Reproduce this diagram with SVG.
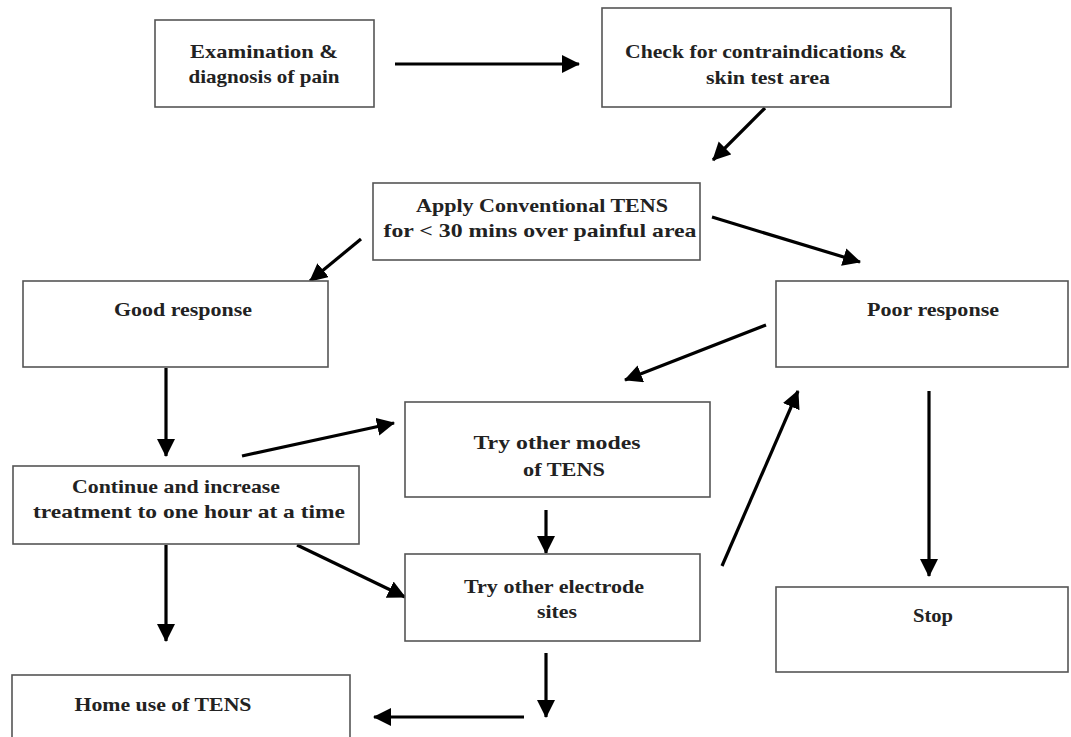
<svg xmlns="http://www.w3.org/2000/svg" width="1071" height="737" viewBox="0 0 1071 737">
<style>
.box{fill:#fff;stroke:#555;stroke-width:1.6}
.t{font-family:"Liberation Serif","Times New Roman",serif;font-weight:bold;font-size:19px;fill:#222;text-anchor:middle}
.c{stroke:#000;stroke-width:3.2;fill:none;marker-end:url(#ah)}
</style>
<defs>
<marker id="ah" markerUnits="userSpaceOnUse" markerWidth="20" markerHeight="20" refX="17" refY="9" orient="auto">
<path d="M0,0 L18,9 L0,18 z" fill="#000"/>
</marker>
</defs>
<rect width="1071" height="737" fill="#fff"/>
<g id="connectors">
<line class="c" x1="395" y1="64" x2="579" y2="64"/>
<line class="c" x1="765" y1="108" x2="713" y2="160"/>
<line class="c" x1="361" y1="239" x2="310" y2="281"/>
<line class="c" x1="712" y1="217" x2="860" y2="262"/>
<line class="c" x1="766" y1="325" x2="625" y2="380"/>
<line class="c" x1="166" y1="368" x2="166" y2="456"/>
<line class="c" x1="242" y1="456" x2="394" y2="423"/>
<line class="c" x1="546" y1="510" x2="546" y2="553"/>
<line class="c" x1="722" y1="566" x2="798" y2="391"/>
<line class="c" x1="297" y1="545" x2="405" y2="597"/>
<line class="c" x1="166" y1="545" x2="166" y2="641"/>
<line class="c" x1="929" y1="391" x2="929" y2="576"/>
<line class="c" x1="546" y1="653" x2="546" y2="717"/>
<line class="c" x1="524" y1="717" x2="374" y2="717"/>
</g>
<g id="n-exam">
<rect class="box" x="155" y="20" width="219" height="87"/>
<text class="t" x="264" y="58" textLength="148" lengthAdjust="spacingAndGlyphs">Examination &amp;</text>
<text class="t" x="264" y="83" textLength="151" lengthAdjust="spacingAndGlyphs">diagnosis of pain</text>
</g>
<g id="n-check">
<rect class="box" x="602" y="8" width="349" height="99"/>
<text class="t" x="766" y="58" textLength="282" lengthAdjust="spacingAndGlyphs">Check for contraindications &amp;</text>
<text class="t" x="768" y="84" textLength="124" lengthAdjust="spacingAndGlyphs">skin test area</text>
</g>
<g id="n-apply">
<rect class="box" x="373" y="183" width="327" height="77"/>
<text class="t" x="542" y="212" textLength="252" lengthAdjust="spacingAndGlyphs">Apply Conventional TENS</text>
<text class="t" x="540" y="237" textLength="313" lengthAdjust="spacingAndGlyphs">for &lt; 30 mins over painful area</text>
</g>
<g id="n-good">
<rect class="box" x="23" y="281" width="305" height="86"/>
<text class="t" x="183" y="316" textLength="138" lengthAdjust="spacingAndGlyphs">Good response</text>
</g>
<g id="n-poor">
<rect class="box" x="776" y="281" width="292" height="86"/>
<text class="t" x="933" y="316" textLength="132" lengthAdjust="spacingAndGlyphs">Poor response</text>
</g>
<g id="n-continue">
<rect class="box" x="13" y="466" width="346" height="78"/>
<text class="t" x="176" y="493" textLength="208" lengthAdjust="spacingAndGlyphs">Continue and increase</text>
<text class="t" x="189" y="518" textLength="312" lengthAdjust="spacingAndGlyphs">treatment to one hour at a time</text>
</g>
<g id="n-modes">
<rect class="box" x="405" y="402" width="305" height="95"/>
<text class="t" x="557" y="449" textLength="167" lengthAdjust="spacingAndGlyphs">Try other modes</text>
<text class="t" x="564" y="476" textLength="82" lengthAdjust="spacingAndGlyphs">of TENS</text>
</g>
<g id="n-electrode">
<rect class="box" x="405" y="554" width="295" height="87"/>
<text class="t" x="554" y="593" textLength="180" lengthAdjust="spacingAndGlyphs">Try other electrode</text>
<text class="t" x="557" y="618" textLength="40" lengthAdjust="spacingAndGlyphs">sites</text>
</g>
<g id="n-stop">
<rect class="box" x="776" y="587" width="292" height="85"/>
<text class="t" x="933" y="622" textLength="40" lengthAdjust="spacingAndGlyphs">Stop</text>
</g>
<g id="n-home">
<rect class="box" x="12" y="675" width="338" height="80"/>
<text class="t" x="163" y="711" textLength="177" lengthAdjust="spacingAndGlyphs">Home use of TENS</text>
</g>
</svg>
